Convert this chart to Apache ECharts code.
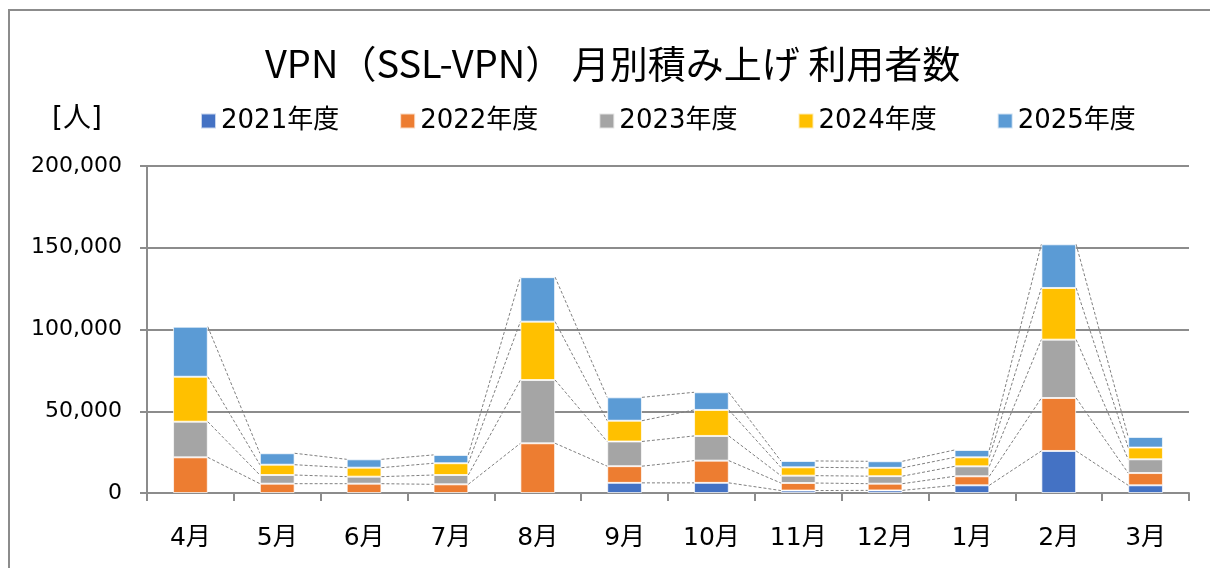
<!DOCTYPE html>
<html><head><meta charset="utf-8">
<script src="https://cdn.jsdelivr.net/npm/echarts@6/dist/echarts.min.js"></script>
<style>html,body{margin:0;padding:0;background:#fff}#c{width:1210px;height:568px}</style>
</head><body><div id="c"></div>
<script>
const categories = ['4月','5月','6月','7月','8月','9月','10月','11月','12月','1月','2月','3月'];
const seriesNames = ['2021年度','2022年度','2023年度','2024年度','2025年度'];
const y2021 = [null,null,null,null,null,6200,6200,1500,1600,4700,25700,4700];
const y2022 = [21800,5700,5700,5300,30400,10200,13600,4600,4100,5500,32400,7500];
const y2023 = [21800,5300,4300,5700,38700,15100,15100,4500,4600,6100,35700,8400];
const y2024 = [27500,6300,5500,7200,35700,12700,15900,5100,5100,5500,31600,7200];
const y2025 = [30600,7000,5100,5100,27200,14300,10800,3900,4000,4500,26700,6500];
const yTicks = [0,50000,100000,150000,200000];
const colors = ['#4472C4','#ED7D31','#A5A5A5','#FFC000','#5B9BD5'];

const all = [y2021,y2022,y2023,y2024,y2025];
const cum = [];
for (let k=0;k<all.length;k++){
  cum.push(categories.map((_,i)=>{
    if (all[k][i]==null) return null;
    let s=0; for(let j=0;j<=k;j++){ s += all[j][i]||0; } return s;
  }));
}
const FONT = "'DejaVu Sans','Noto Sans CJK JP',sans-serif";
const chart = echarts.init(document.getElementById('c'));
const barSeries = all.map((d,k)=>({
  name: seriesNames[k], type:'bar', stack:'total', data:d, barWidth:'40%',
  itemStyle:{color:colors[k], borderColor:'rgba(255,255,255,0.7)', borderWidth:1},
  emphasis:{disabled:true}, z:3
}));
const lineSeries = {
  type:'custom', name:'series-lines', silent:true, z:2,
  data: categories.slice(0,-1).map((_,i)=>[i,0]),
  encode:{x:0,y:1},
  renderItem:(params, api)=>{
    const i = params.dataIndex;
    const half = api.size([1,0])[0]*0.2;
    const children=[];
    for (let k=0;k<cum.length;k++){
      const a = cum[k][i], b = cum[k][i+1];
      if (a==null || b==null) continue;
      const p1 = api.coord([i,a]), p2 = api.coord([i+1,b]);
      children.push({type:'line', shape:{x1:p1[0]+half,y1:p1[1],x2:p2[0]-half,y2:p2[1]},
        style:{stroke:'#808080', lineWidth:1, lineDash:[3,2]}});
    }
    return {type:'group', children};
  }
};
chart.setOption({
  animation:false,
  backgroundColor:'#fff',
  title:{text:'VPN（SSL-VPN） 月別積み上げ 利用者数', left:260, top:40,
    textStyle:{fontSize:38, fontWeight:'normal', color:'#000', fontFamily:"'Noto Sans CJK JP',sans-serif"}},
  legend:{data:seriesNames, left:195, top:103, icon:'rect', itemWidth:15, itemHeight:15, itemGap:60,
    textStyle:{fontSize:26, color:'#000', fontFamily:FONT}},
  grid:{left:147, right:21, top:166, bottom:75},
  graphic:[
    {type:'rect', shape:{x:9,y:10,width:1400,height:800}, style:{fill:'none', stroke:'#8c8c8c', lineWidth:2}, z:-1},
    {type:'text', left:52, top:106, style:{text:'[人]', fill:'#000', font:"28px "+FONT}}
  ],
  xAxis:{type:'category', data:categories,
    axisLine:{lineStyle:{color:'#8c8c8c', width:2}},
    axisTick:{show:true, length:8, lineStyle:{color:'#8c8c8c', width:2}},
    axisLabel:{fontSize:25, color:'#000', margin:33, fontFamily:FONT}},
  yAxis:{type:'value', min:yTicks[0], max:yTicks[yTicks.length-1], interval:yTicks[1]-yTicks[0],
    axisLine:{show:true, lineStyle:{color:'#8c8c8c', width:2}},
    axisTick:{show:true, length:7, lineStyle:{color:'#8c8c8c', width:2}},
    splitLine:{lineStyle:{color:'#8c8c8c', width:2}},
    axisLabel:{fontSize:22, color:'#000', margin:25, fontFamily:FONT,
      formatter:v=>v.toLocaleString('en-US')}},
  series:[...barSeries, lineSeries]
});
</script></body></html>
